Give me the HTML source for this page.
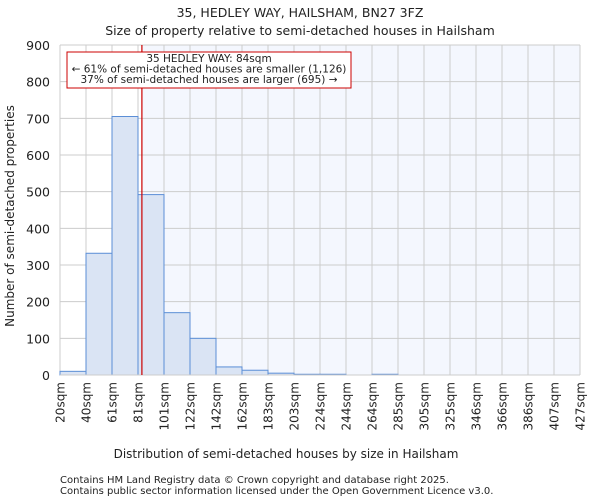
<!DOCTYPE html>
<html><head><meta charset="utf-8"><style>
body{margin:0;background:#fff;font-family:"DejaVu Sans","Liberation Sans",sans-serif;}
svg text{font-family:"DejaVu Sans","Liberation Sans",sans-serif;fill:#222;}
</style></head><body>
<svg id="c" width="600" height="500">
<text x="300" y="17" font-size="12.5" text-anchor="middle">35, HEDLEY WAY, HAILSHAM, BN27 3FZ</text>
<text x="300" y="35" font-size="12.5" text-anchor="middle">Size of property relative to semi-detached houses in Hailsham</text>
<g id="plot"></g>
<text x="286" y="458" font-size="12" text-anchor="middle">Distribution of semi-detached houses by size in Hailsham</text>
<text transform="translate(14,216) rotate(-90)" font-size="12" text-anchor="middle">Number of semi-detached properties</text>
<text x="60" y="483" font-size="10" fill="#444">Contains HM Land Registry data © Crown copyright and database right 2025.</text>
<text x="60" y="494" font-size="10" fill="#444">Contains public sector information licensed under the Open Government Licence v3.0.</text>
</svg>
<script>
const binLabels=["20sqm","40sqm","61sqm","81sqm","101sqm","122sqm","142sqm","162sqm","183sqm","203sqm","224sqm","244sqm","264sqm","285sqm","305sqm","325sqm","346sqm","366sqm","386sqm","407sqm","427sqm"];
const binEdges=[20,40,61,81,101,122,142,162,183,203,224,244,264,285,305,325,346,366,386,407,427];
const counts=[10,332,705,492,170,100,22,13,5,2,2,0,2,0,0,0,0,0,0,0];
const yTicks=[0,100,200,300,400,500,600,700,800,900];
const propertySize=84;
const annotationLines=["35 HEDLEY WAY: 84sqm","← 61% of semi-detached houses are smaller (1,126)","37% of semi-detached houses are larger (695) →"];
const L=60,R=580,T=45,B=375,yMax=900;
const nb=counts.length,bw=(R-L)/nb;
const xi=i=>L+i*bw;
const y=v=>B-(v/yMax)*(B-T);
function xv(v){for(let i=0;i<binEdges.length-1;i++){if(v>=binEdges[i]&&v<=binEdges[i+1])return xi(i)+(v-binEdges[i])/(binEdges[i+1]-binEdges[i])*bw;}return R;}
const NS="http://www.w3.org/2000/svg",g=document.getElementById('plot');
function mk(t,a){const e=document.createElementNS(NS,t);for(const k in a)e.setAttribute(k,a[k]);g.appendChild(e);return e;}
const px=xv(propertySize);
let e=mk('rect',{x:px,y:T,width:R-px,height:B-T,fill:'#f4f7fe'});


yTicks.forEach(t=>{
 let l=mk('line',{x1:L,x2:R,y1:y(t),y2:y(t),stroke:'#ccc','stroke-width':1});
 
 
 let tx=mk('text',{x:L-10,y:y(t)+5,'font-size':12.5,'text-anchor':'end'});tx.textContent=t;
 
 
});
binLabels.forEach((s,i)=>{
 let l=mk('line',{x1:xi(i),x2:xi(i),y1:T,y2:B,stroke:'#ccc','stroke-width':1});
 
 
 let tx=mk('text',{transform:`translate(${xi(i)+4.5},382) rotate(-90)`,'font-size':12,'text-anchor':'end'});tx.textContent=s;
 
 
});
counts.forEach((c,i)=>{
 if(c<=0)return;
 let r=mk('rect',{x:xi(i),y:y(c),width:bw,height:B-y(c),fill:'#dae4f4',stroke:'#5b8ed6','stroke-width':1});
 
 
});
let ax=mk('line',{x1:L,x2:R,y1:B,y2:B,stroke:'#ccc'});


let rl=mk('line',{x1:px,x2:px,y1:T,y2:B,stroke:'#cc0000','stroke-width':1.2});


let bx=mk('rect',{x:67,y:52,width:284,height:36,fill:'#fff',stroke:'#cc0000','stroke-width':1});


annotationLines.forEach((s,i)=>{
 let tx=mk('text',{x:209,y:62+i*10.5,'font-size':10.5,'text-anchor':'middle'});tx.textContent=s;
 
 
});
</script>
</body></html>
